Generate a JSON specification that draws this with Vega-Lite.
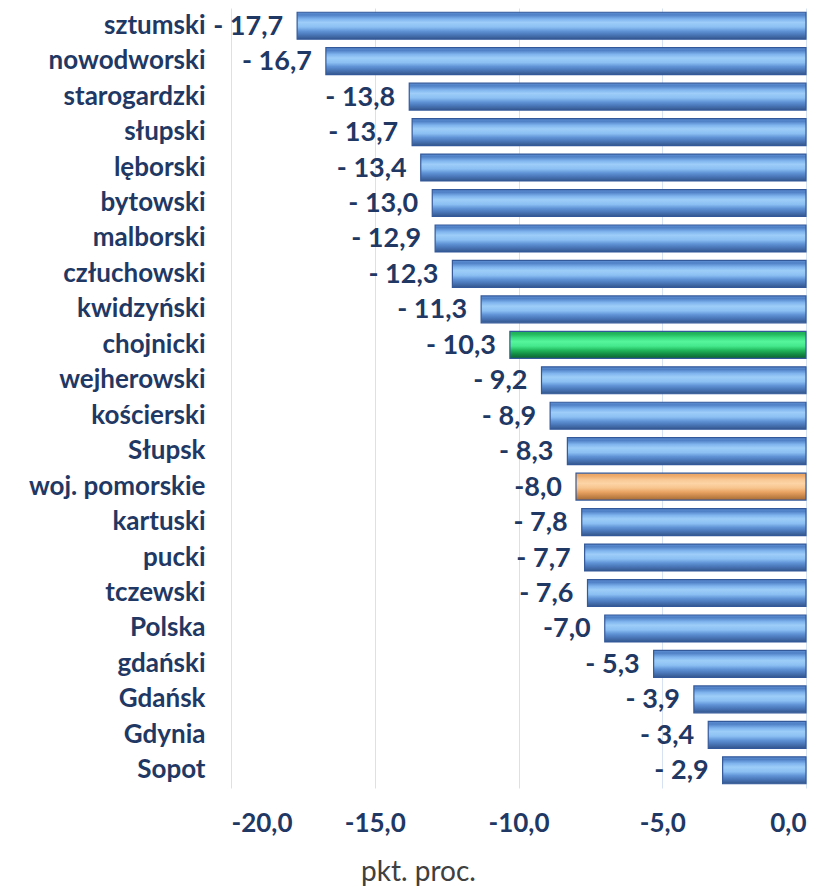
{
  "$schema": "https://vega.github.io/schema/vega-lite/v6.json",
  "width": 575,
  "height": 780,
  "autosize": {"type": "none"},
  "padding": {"left": 231, "top": 8, "right": 23, "bottom": 99},
  "background": "white",
  "config": {"view": {"stroke": null}, "font": "Lato"},
  "data": {
    "values": [
      {"name": "sztumski", "value": -17.7, "label": "- 17,7", "kind": "powiat"},
      {"name": "nowodworski", "value": -16.7, "label": "- 16,7", "kind": "powiat"},
      {"name": "starogardzki", "value": -13.8, "label": "- 13,8", "kind": "powiat"},
      {"name": "słupski", "value": -13.7, "label": "- 13,7", "kind": "powiat"},
      {"name": "lęborski", "value": -13.4, "label": "- 13,4", "kind": "powiat"},
      {"name": "bytowski", "value": -13.0, "label": "- 13,0", "kind": "powiat"},
      {"name": "malborski", "value": -12.9, "label": "- 12,9", "kind": "powiat"},
      {"name": "człuchowski", "value": -12.3, "label": "- 12,3", "kind": "powiat"},
      {"name": "kwidzyński", "value": -11.3, "label": "- 11,3", "kind": "powiat"},
      {"name": "chojnicki", "value": -10.3, "label": "- 10,3", "kind": "chojnicki"},
      {"name": "wejherowski", "value": -9.2, "label": "- 9,2", "kind": "powiat"},
      {"name": "kościerski", "value": -8.9, "label": "- 8,9", "kind": "powiat"},
      {"name": "Słupsk\u00a0", "value": -8.3, "label": "- 8,3", "kind": "powiat"},
      {"name": "woj. pomorskie", "value": -8.0, "label": "-8,0", "kind": "woj"},
      {"name": "kartuski", "value": -7.8, "label": "- 7,8", "kind": "powiat"},
      {"name": "pucki", "value": -7.7, "label": "- 7,7", "kind": "powiat"},
      {"name": "tczewski", "value": -7.6, "label": "- 7,6", "kind": "powiat"},
      {"name": "Polska", "value": -7.0, "label": "-7,0", "kind": "powiat"},
      {"name": "gdański", "value": -5.3, "label": "- 5,3", "kind": "powiat"},
      {"name": "Gdańsk\u00a0", "value": -3.9, "label": "- 3,9", "kind": "powiat"},
      {"name": "Gdynia", "value": -3.4, "label": "- 3,4", "kind": "powiat"},
      {"name": "Sopot", "value": -2.9, "label": "- 2,9", "kind": "powiat"}
    ]
  },
  "encoding": {
    "y": {
      "field": "name",
      "type": "nominal",
      "sort": null,
      "scale": {
        "domain": ["sztumski", "nowodworski", "starogardzki", "słupski", "lęborski", "bytowski", "malborski", "człuchowski", "kwidzyński", "chojnicki", "wejherowski", "kościerski", "Słupsk\u00a0", "woj. pomorskie", "kartuski", "pucki", "tczewski", "Polska", "gdański", "Gdańsk\u00a0", "Gdynia", "Sopot"],
        "paddingInner": 0.24,
        "paddingOuter": 0.12
      },
      "axis": {
        "title": null,
        "domain": false,
        "ticks": false,
        "grid": false,
        "labelPadding": 26,
        "labelFont": "Lato",
        "labelFontWeight": "bold",
        "labelFontSize": 26,
        "labelColor": "#1F3864"
      }
    },
    "x": {
      "field": "value",
      "type": "quantitative",
      "scale": {"domain": [-20, 0], "nice": false},
      "axis": {
        "values": [-20, -15, -10, -5, 0],
        "labelExpr": "(datum.value < 0 ? '-' : '') + replace(format(abs(datum.value), '.1f'), '.', ',')",
        "domain": false,
        "ticks": false,
        "grid": true,
        "gridColor": "#D6E2F2",
        "gridWidth": 1,
        "labelPadding": 22,
        "labelFont": "Lato",
        "labelFontWeight": "bold",
        "labelFontSize": 26,
        "labelColor": "#1F3864",
        "title": "pkt. proc.",
        "titleFont": "Lato",
        "titleFontWeight": "normal",
        "titleFontSize": 28,
        "titleColor": "#404040",
        "titleX": 187,
        "titleAlign": "center",
        "titlePadding": 22
      }
    }
  },
  "layer": [
    {
      "transform": [{"filter": "datum.kind == 'powiat'"}],
      "mark": {
        "type": "bar",
        "stroke": "#34599A",
        "strokeWidth": 1.2,
        "color": {
          "gradient": "linear",
          "x1": 0, "y1": 0, "x2": 0, "y2": 1,
          "stops": [
            {"offset": 0, "color": "#5E8FD3"},
            {"offset": 0.1, "color": "#4F80C6"},
            {"offset": 0.25, "color": "#7FB4EE"},
            {"offset": 0.38, "color": "#9DCDF8"},
            {"offset": 0.55, "color": "#8CC0F3"},
            {"offset": 0.7, "color": "#5F93D6"},
            {"offset": 0.85, "color": "#4874B5"},
            {"offset": 1, "color": "#34578C"}
          ]
        }
      }
    },
    {
      "transform": [{"filter": "datum.kind == 'chojnicki'"}],
      "mark": {
        "type": "bar",
        "stroke": "#34599A",
        "strokeWidth": 1.2,
        "color": {
          "gradient": "linear",
          "x1": 0, "y1": 0, "x2": 0, "y2": 1,
          "stops": [
            {"offset": 0, "color": "#1FAE55"},
            {"offset": 0.1, "color": "#22B85C"},
            {"offset": 0.25, "color": "#3EE083"},
            {"offset": 0.38, "color": "#55F59C"},
            {"offset": 0.55, "color": "#45E88C"},
            {"offset": 0.7, "color": "#22B85C"},
            {"offset": 0.85, "color": "#128A44"},
            {"offset": 1, "color": "#0B6430"}
          ]
        }
      }
    },
    {
      "transform": [{"filter": "datum.kind == 'woj'"}],
      "mark": {
        "type": "bar",
        "stroke": "#34599A",
        "strokeWidth": 1.2,
        "color": {
          "gradient": "linear",
          "x1": 0, "y1": 0, "x2": 0, "y2": 1,
          "stops": [
            {"offset": 0, "color": "#E9A362"},
            {"offset": 0.1, "color": "#EDAA6A"},
            {"offset": 0.25, "color": "#F9C996"},
            {"offset": 0.38, "color": "#FCD4A6"},
            {"offset": 0.55, "color": "#F7C48E"},
            {"offset": 0.7, "color": "#E9A362"},
            {"offset": 0.85, "color": "#C8864A"},
            {"offset": 1, "color": "#A56B36"}
          ]
        }
      }
    },
    {
      "mark": {
        "type": "text",
        "align": "right",
        "baseline": "middle",
        "dx": -14,
        "dy": 1,
        "font": "Lato",
        "fontWeight": "bold",
        "fontSize": 27,
        "color": "#1F3864"
      },
      "encoding": {"text": {"field": "label"}}
    }
  ]
}
